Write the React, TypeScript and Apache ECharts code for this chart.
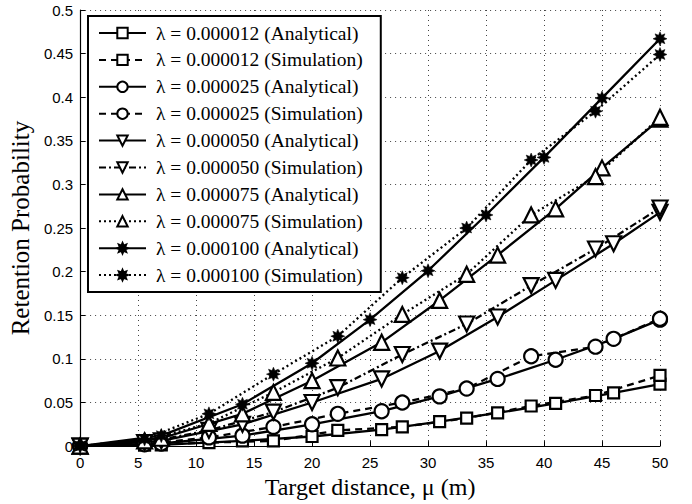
import React, { useEffect, useRef } from "react";
import * as echarts from "echarts";

// x positions of the markers
const xSim = [0, 5.56, 11.11, 16.67, 22.22, 27.78, 33.33, 38.89, 44.44, 50];
const xAna = [0, 7, 14, 20, 26, 31, 36, 41, 46, 50];
const xAnaUp = [0, 7, 14, 20, 26, 31, 36, 41, 45, 50];
const xAnaStar = [0, 7, 14, 20, 25, 30, 35, 40, 45, 50];

// retention probability values
const a012 = [0, 0.0015, 0.006, 0.011, 0.019, 0.028, 0.038, 0.049, 0.061, 0.071];
const s012 = [0, 0.001, 0.004, 0.006, 0.018, 0.022, 0.032, 0.046, 0.058, 0.081];
const a025 = [0, 0.003, 0.012, 0.025, 0.04, 0.057, 0.077, 0.099, 0.123, 0.145];
const s025 = [0, 0.002, 0.01, 0.022, 0.037, 0.05, 0.066, 0.103, 0.114, 0.146];
const a050 = [0, 0.006, 0.025, 0.05, 0.077, 0.109, 0.148, 0.19, 0.232, 0.268];
const s050 = [0, 0.004, 0.018, 0.039, 0.067, 0.105, 0.14, 0.184, 0.226, 0.273];
const a075 = [0, 0.009, 0.037, 0.075, 0.119, 0.167, 0.219, 0.272, 0.319, 0.375];
const s075 = [0, 0.006, 0.026, 0.0616, 0.101, 0.151, 0.197, 0.265, 0.309, 0.377];
const a100 = [0, 0.012, 0.048, 0.095, 0.145, 0.201, 0.265, 0.331, 0.399, 0.467];
const s100 = [0, 0.008, 0.037, 0.0825, 0.126, 0.193, 0.25, 0.328, 0.384, 0.449];

const names = [
  "λ = 0.000012 (Analytical)",
  "λ = 0.000012 (Simulation)",
  "λ = 0.000025 (Analytical)",
  "λ = 0.000025 (Simulation)",
  "λ = 0.000050 (Analytical)",
  "λ = 0.000050 (Simulation)",
  "λ = 0.000075 (Analytical)",
  "λ = 0.000075 (Simulation)",
  "λ = 0.000100 (Analytical)",
  "λ = 0.000100 (Simulation)",
];

const yTicksMax = 0.5;

function starPath(): string {
  const pts: string[] = [];
  const n = 16;
  for (let i = 0; i < n; i++) {
    const r = i % 2 === 0 ? 10 : 5.5;
    const a = (Math.PI * 2 * i) / n - Math.PI / 2;
    pts.push(`${(10 + r * Math.cos(a)).toFixed(2)},${(10 + r * Math.sin(a)).toFixed(2)}`);
  }
  return "path://M" + pts.join(" L") + " Z";
}

const zip = (xs: number[], ys: number[]) => xs.map((x, i) => [x, ys[i]]);

export default function App() {
  const ref = useRef<HTMLDivElement>(null);
  useEffect(() => {
    if (!ref.current) return;
    const chart = echarts.init(ref.current, null, { renderer: "svg" });
    const star = starPath();
    const hollow = { color: "#fff", borderColor: "#000", borderWidth: 2.2 };
    const filled = { color: "#000", borderColor: "#000", borderWidth: 0.5 };
    const mk = (
      name: string,
      data: number[][],
      symbol: string,
      size: number,
      lineType: any,
      itemStyle: any,
      rotate = 0
    ) => ({
      type: "line",
      name,
      data,
      symbol,
      symbolSize: size,
      symbolRotate: rotate,
      showAllSymbol: true,
      smooth: false,
      lineStyle: { color: "#000", width: 2.3, type: lineType },
      itemStyle,
      emphasis: { disabled: true },
      z: 3,
    });
    const dotted = [2, 3];
    const dashed = [7, 5];
    const dashDot = [7, 3, 2, 3];
    chart.setOption({
      animation: false,
      backgroundColor: "#fff",
      grid: { left: 80, right: 32, top: 10, bottom: 55, containLabel: false },
      legend: {
        orient: "vertical",
        left: 88,
        top: 16,
        itemWidth: 47,
        itemHeight: 13,
        itemGap: 6.9,
        padding: [7, 18, 7, 10],
        borderColor: "#000",
        borderWidth: 2,
        backgroundColor: "#fff",
        textStyle: {
          fontFamily: "Liberation Serif",
          fontSize: 19.5,
          color: "#000",
          padding: [0, 0, 0, 5],
        },
        data: names,
        selectedMode: false,
        z: 10,
      },
      xAxis: {
        type: "value",
        min: 0,
        max: 50,
        interval: 5,
        name: "Target distance, μ (m)",
        nameLocation: "middle",
        nameGap: 27,
        nameTextStyle: { fontFamily: "Liberation Serif", fontSize: 24, color: "#000" },
        axisLine: { show: true, lineStyle: { color: "#000", width: 1.2 } },
        axisTick: { show: true, inside: true, length: 5, lineStyle: { color: "#000" } },
        axisLabel: { color: "#000", fontFamily: "Liberation Sans", fontSize: 15, margin: 9 },
        splitLine: { show: true, lineStyle: { color: "#444", width: 1, type: [1, 4] } },
      },
      yAxis: {
        type: "value",
        min: 0,
        max: yTicksMax,
        interval: 0.05,
        name: "Retention Probability",
        nameLocation: "middle",
        nameGap: 44,
        nameTextStyle: { fontFamily: "Liberation Serif", fontSize: 25, color: "#000" },
        axisLine: { show: true, lineStyle: { color: "#000", width: 1.2 } },
        axisTick: { show: true, inside: true, length: 5, lineStyle: { color: "#000" } },
        axisLabel: { color: "#000", fontFamily: "Liberation Sans", fontSize: 15, margin: 7 },
        splitLine: { show: true, lineStyle: { color: "#444", width: 1, type: [1, 4] } },
      },
      series: [
        mk(names[0], zip(xAna, a012), "rect", 11, "solid", hollow),
        mk(names[1], zip(xSim, s012), "rect", 11, dashed, hollow),
        mk(names[2], zip(xAna, a025), "circle", 14, "solid", hollow),
        mk(names[3], zip(xSim, s025), "circle", 14, dashed, hollow),
        mk(names[4], zip(xAna, a050), "triangle", 15, "solid", hollow, 180),
        mk(names[5], zip(xSim, s050), "triangle", 15, dashDot, hollow, 180),
        mk(names[6], zip(xAnaUp, a075), "triangle", 15, "solid", hollow),
        mk(names[7], zip(xSim, s075), "triangle", 15, dotted, hollow),
        mk(names[8], zip(xAnaStar, a100), star, 14, "solid", filled),
        mk(names[9], zip(xSim, s100), star, 14, dotted, filled),
      ],
    });
    return () => chart.dispose();
  }, []);
  return (
    <div
      ref={ref}
      style={{ position: "fixed", left: 0, top: 0, width: 692, height: 504 }}
    />
  );
}
